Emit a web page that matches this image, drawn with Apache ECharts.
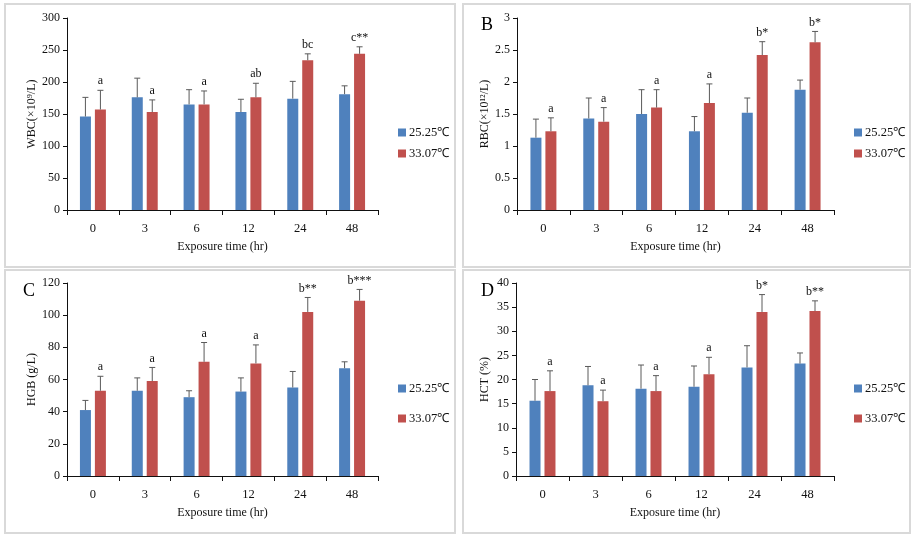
<!DOCTYPE html>
<html>
<head>
<meta charset="utf-8">
<script src="https://cdn.jsdelivr.net/npm/echarts@6/dist/echarts.min.js"></script>
<style>
html,body{margin:0;padding:0;background:#fff;}
#c{width:916px;height:536px;}
</style>
</head>
<body>
<div id="c"></div>
<script>
const categories = ['0', '3', '6', '12', '24', '48'];
const seriesNames = ['25.25℃', '33.07℃'];

const wbcLow = [146, 176, 165, 153, 174, 181];
const wbcLowErr = [30, 30, 23, 20, 27, 13];
const wbcHigh = [157, 153, 165, 176, 234, 244];
const wbcHighErr = [30, 19, 21, 22, 10, 11];
const wbcSig = ['a', 'a', 'a', 'ab', 'bc', 'c**'];

const rbcLow = [1.13, 1.43, 1.50, 1.23, 1.52, 1.88];
const rbcLowErr = [0.29, 0.32, 0.38, 0.23, 0.23, 0.15];
const rbcHigh = [1.23, 1.38, 1.60, 1.67, 2.42, 2.62];
const rbcHighErr = [0.21, 0.22, 0.28, 0.30, 0.21, 0.17];
const rbcSig = ['a', 'a', 'a', 'a', 'b*', 'b*'];

const hgbLow = [41, 53, 49, 52.5, 55, 67];
const hgbLowErr = [6, 8, 4, 8.5, 10, 4];
const hgbHigh = [53, 59, 71, 70, 102, 109];
const hgbHighErr = [9, 8.5, 12, 11.5, 9, 7];
const hgbSig = ['a', 'a', 'a', 'a', 'b**', 'b***'];

const hctLow = [15.6, 18.8, 18.1, 18.5, 22.5, 23.3];
const hctLowErr = [4.4, 3.9, 4.9, 4.3, 4.5, 2.2];
const hctHigh = [17.6, 15.5, 17.6, 21.1, 34.0, 34.2];
const hctHighErr = [4.2, 2.3, 3.2, 3.5, 3.6, 2.1];
const hctSig = ['a', 'a', 'a', 'a', 'b*', 'b**'];

const yMax = [300, 3, 120, 40];
const yInterval = [50, 0.5, 20, 5];
const yNames = ['WBC(×10⁹/L)', 'RBC(×10¹²/L)', 'HGB (g/L)', 'HCT (%)'];
const panelLetters = ['', 'B', 'C', 'D'];

const panels = [
  {low: wbcLow, lowErr: wbcLowErr, high: wbcHigh, highErr: wbcHighErr, sig: wbcSig},
  {low: rbcLow, lowErr: rbcLowErr, high: rbcHigh, highErr: rbcHighErr, sig: rbcSig},
  {low: hgbLow, lowErr: hgbLowErr, high: hgbHigh, highErr: hgbHighErr, sig: hgbSig},
  {low: hctLow, lowErr: hctLowErr, high: hctHigh, highErr: hctHighErr, sig: hctSig}
];

const FONT = 'Liberation Serif';
const BLUE = '#4F81BD';
const RED = '#C0504D';
const ERR = '#5a5a5a';
const BAR_W = 11;
const BAR_OFF = 7.5;

const grids = [
  {left: 67, top: 18, width: 311, height: 192},
  {left: 517, top: 18, width: 317, height: 192},
  {left: 67, top: 283, width: 311, height: 193},
  {left: 516, top: 283, width: 318, height: 193}
];
const legendPos = [
  {left: 393, top: 121, gap: 8},
  {left: 849, top: 121, gap: 8},
  {left: 393, top: 377, gap: 17},
  {left: 849, top: 377, gap: 17}
];
const yNameGap = [29, 25, 29, 25];

function errRenderer(offset, sig) {
  return function (params, api) {
    const i = api.value(0);
    const v = api.value(1);
    const e = api.value(2);
    const base = api.coord([i, v]);
    const top = api.coord([i, v + e]);
    const x = base[0] + offset;
    const children = [
      {type: 'line', shape: {x1: x, y1: base[1], x2: x, y2: top[1]}, style: {stroke: ERR, lineWidth: 1}},
      {type: 'line', shape: {x1: x - 3, y1: top[1], x2: x + 3, y2: top[1]}, style: {stroke: ERR, lineWidth: 1}}
    ];
    if (sig) {
      children.push({
        type: 'text',
        style: {
          text: sig[params.dataIndex], x: x, y: top[1] - 3,
          align: 'center', verticalAlign: 'bottom',
          font: '12px "' + FONT + '"', fill: '#111'
        }
      });
    }
    return {type: 'group', children: children};
  };
}

const option = {
  animation: false,
  backgroundColor: '#fff',
  grid: grids.map(g => Object.assign({containLabel: false}, g)),
  xAxis: grids.map((g, k) => ({
    type: 'category', gridIndex: k, data: categories,
    name: 'Exposure time (hr)', nameLocation: 'middle', nameGap: 31,
    nameTextStyle: {fontFamily: FONT, fontSize: 12, color: '#111'},
    axisLine: {lineStyle: {color: '#111', width: 1}},
    axisTick: {show: true, length: 5, lineStyle: {color: '#111'}},
    axisLabel: {fontFamily: FONT, fontSize: 12.5, color: '#111', margin: 12}
  })),
  yAxis: grids.map((g, k) => ({
    type: 'value', gridIndex: k, min: 0, max: yMax[k], interval: yInterval[k],
    name: yNames[k], nameLocation: 'middle', nameGap: yNameGap[k],
    nameTextStyle: {fontFamily: FONT, fontSize: 12, color: '#111'},
    axisLine: {show: true, lineStyle: {color: '#111', width: 1}},
    axisTick: {show: true, length: 4, lineStyle: {color: '#111'}},
    splitLine: {show: false},
    axisLabel: {fontFamily: FONT, fontSize: 12, color: '#111', margin: 7}
  })),
  legend: legendPos.map(p => ({
    orient: 'vertical', left: p.left, top: p.top, itemGap: p.gap,
    itemWidth: 8, itemHeight: 8, icon: 'rect',
    data: seriesNames,
    textStyle: {fontFamily: FONT, fontSize: 12.5, color: '#111', padding: [0, 0, 0, -2]},
    selectedMode: false
  })),
  series: [],
  graphic: []
};

panels.forEach((p, k) => {
  option.series.push({
    name: seriesNames[0], type: 'bar', xAxisIndex: k, yAxisIndex: k,
    data: p.low, barWidth: BAR_W, barGap: '36%', itemStyle: {color: BLUE}
  });
  option.series.push({
    name: seriesNames[1], type: 'bar', xAxisIndex: k, yAxisIndex: k,
    data: p.high, barWidth: BAR_W, barGap: '36%', itemStyle: {color: RED}
  });
  option.series.push({
    type: 'custom', xAxisIndex: k, yAxisIndex: k, clip: false, z: 5,
    data: p.low.map((v, i) => [i, v, p.lowErr[i]]),
    encode: {x: 0, y: 1},
    renderItem: errRenderer(-BAR_OFF, null)
  });
  option.series.push({
    type: 'custom', xAxisIndex: k, yAxisIndex: k, clip: false, z: 5,
    data: p.high.map((v, i) => [i, v, p.highErr[i]]),
    encode: {x: 0, y: 1},
    renderItem: errRenderer(BAR_OFF, p.sig)
  });
});

const frames = [
  {x: 5, y: 4, width: 450, height: 263},
  {x: 463, y: 4, width: 447, height: 263},
  {x: 5, y: 270, width: 450, height: 263},
  {x: 463, y: 270, width: 447, height: 263}
];
frames.forEach(f => {
  option.graphic.push({
    type: 'rect', shape: f, z: 0, silent: true,
    style: {fill: 'none', stroke: '#d9d9d9', lineWidth: 2}
  });
});
const letterPos = [[0, 0], [481, 16], [23, 282], [481, 282]];
panelLetters.forEach((t, k) => {
  if (!t) return;
  option.graphic.push({
    type: 'text', left: letterPos[k][0], top: letterPos[k][1], silent: true,
    style: {text: t, font: '18px "' + FONT + '"', fill: '#000'}
  });
});

const chart = echarts.init(document.getElementById('c'));
chart.setOption(option);
</script>
</body>
</html>
